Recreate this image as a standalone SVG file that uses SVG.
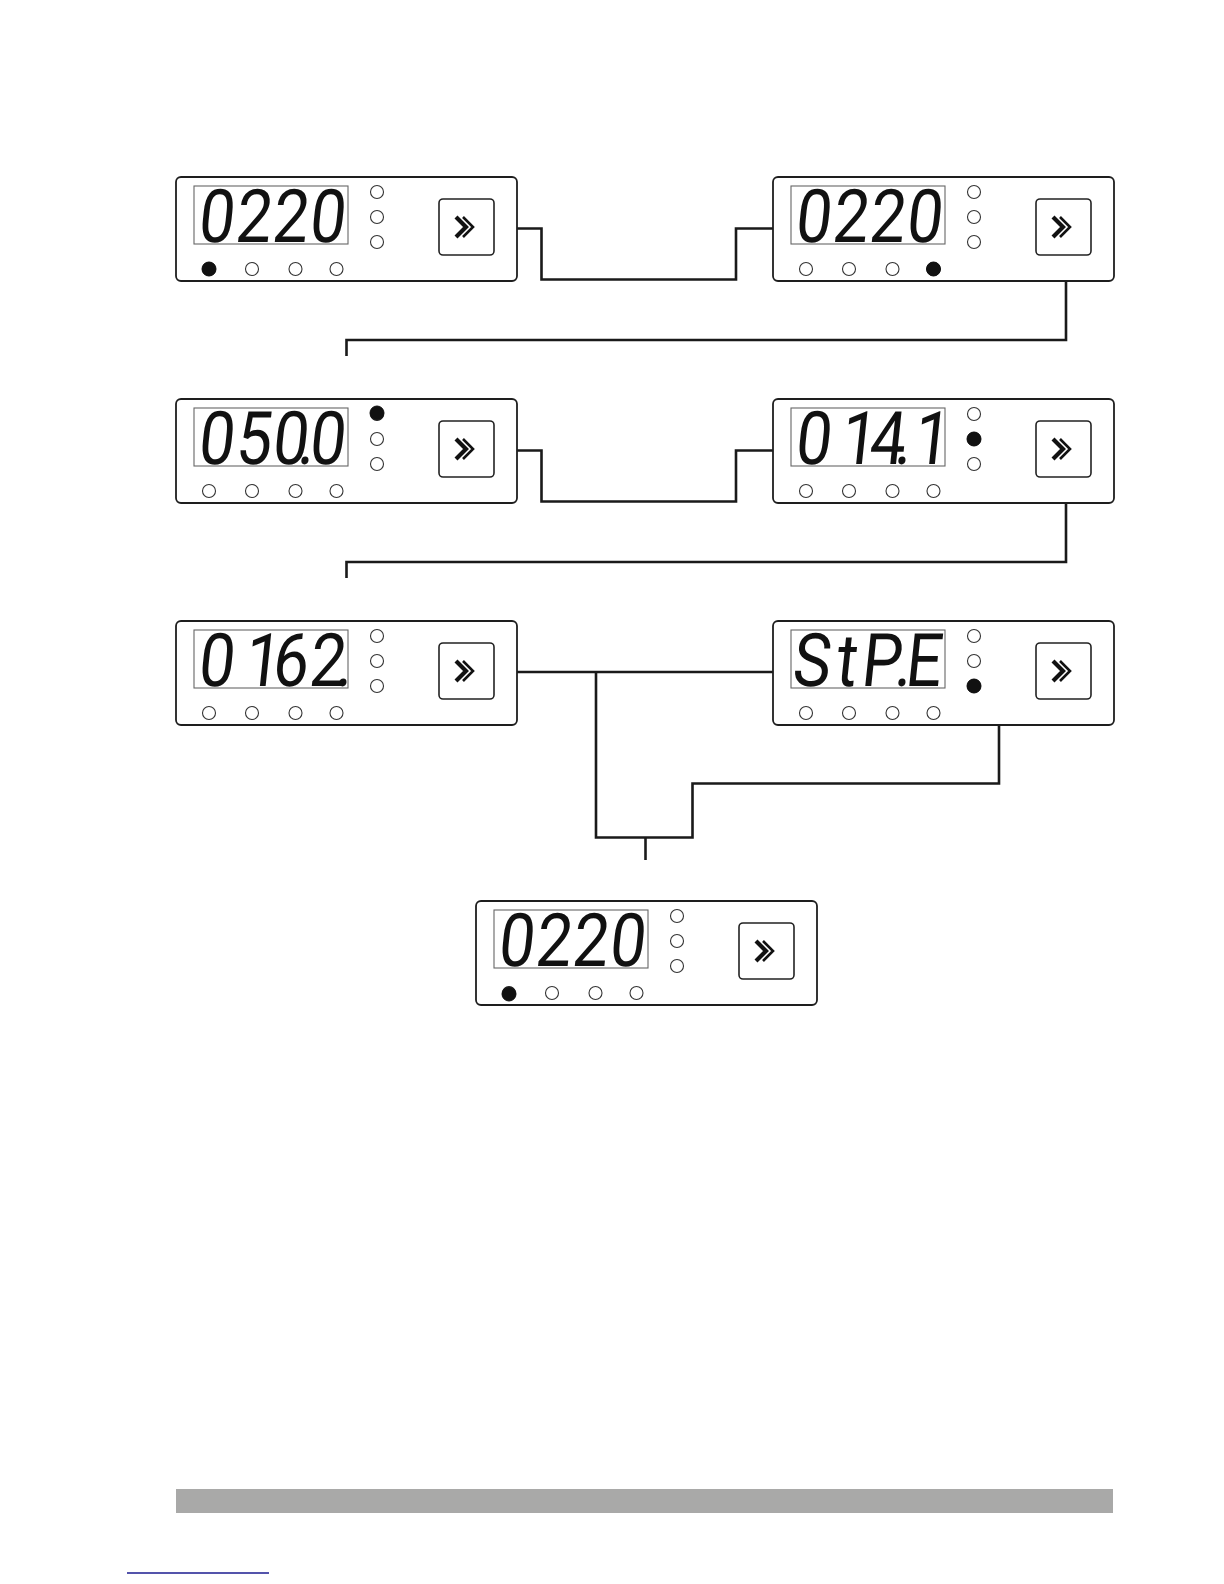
<svg xmlns="http://www.w3.org/2000/svg" xmlns:xlink="http://www.w3.org/1999/xlink" width="1224" height="1584" viewBox="0 0 1224 1584">
<style>
.frame{fill:#fff;stroke:#1e1e1e;stroke-width:1.8}
.disp{fill:#fff;stroke:#666;stroke-width:1.1}
.led{fill:#fff;stroke:#333;stroke-width:1.1}
.on{fill:#111;stroke:#111;stroke-width:1}
.btn{fill:#fff;stroke:#222;stroke-width:1.6}
.chev{fill:none;stroke:#111;stroke-linejoin:miter;stroke-linecap:butt}
.seg{font-family:Roboto,"Liberation Sans",sans-serif;font-weight:400;font-size:74px;fill:#111;text-anchor:middle}
.conn{fill:none;stroke:#1a1a1a;stroke-width:2.6;stroke-linejoin:miter}
</style>
<defs>
<g id="panelBase">
<rect class="frame" x="0" y="0" width="341" height="104" rx="5"/>
<rect class="disp" x="18" y="9" width="154" height="58"/>
<circle class="led" cx="201" cy="15" r="6.5"/>
<circle class="led" cx="201" cy="40" r="6.5"/>
<circle class="led" cx="201" cy="65" r="6.5"/>
<circle class="led" cx="33" cy="92" r="6.5"/>
<circle class="led" cx="76" cy="92" r="6.5"/>
<circle class="led" cx="119.5" cy="92" r="6.5"/>
<circle class="led" cx="160.5" cy="92" r="6.5"/>
<rect class="btn" x="263" y="22" width="55" height="56" rx="4"/>
<polyline class="chev" stroke-width="4.2" points="280,40 290,50 280,60"/>
<polyline class="chev" stroke-width="2.6" points="287,40 297,50 287,60"/>
</g>
</defs>
<rect x="0" y="0" width="1224" height="1584" fill="#fff"/>

<g id="connectors">
<path class="conn" d="M517,228.5 H541.5 V279.5 H736 V228.5 H773"/>
<path class="conn" d="M1066,281 V340 H346.5 V356"/>
<path class="conn" d="M517,450.5 H541.5 V501.5 H736 V450.5 H773"/>
<path class="conn" d="M1066,503 V562 H346.5 V578"/>
<path class="conn" stroke-width="2" d="M494,672 H773"/>
<path class="conn" d="M596,672 V837.5 H692.5 V783.5 H999 V726"/>
<path class="conn" d="M645.5,837.5 V860"/>
</g>

<g id="panel1" transform="translate(176,177)">
<use xlink:href="#panelBase"/>
<circle class="on" cx="33" cy="92" r="7"/>
<text class="seg" transform="translate(0,65) skewX(-6) scale(0.86,1)" x="45.3 88.4 131.4 174.4" y="0">0220</text>
</g>

<g id="panel2" transform="translate(773,177)">
<use xlink:href="#panelBase"/>
<circle class="on" cx="160.5" cy="92" r="7"/>
<text class="seg" transform="translate(0,65) skewX(-6) scale(0.86,1)" x="45.3 88.4 131.4 174.4" y="0">0220</text>
</g>

<g id="panel3" transform="translate(176,399)">
<use xlink:href="#panelBase"/>
<circle class="on" cx="201" cy="14" r="7"/>
<text class="seg" transform="translate(0,65) skewX(-6) scale(0.86,1)" x="45.3 88.4 131.4 150 174.4" y="0">050.0</text>
</g>

<g id="panel4" transform="translate(773,399)">
<use xlink:href="#panelBase"/>
<circle class="on" cx="201" cy="40" r="7"/>
<text class="seg" transform="translate(0,65) skewX(-6) scale(0.86,1)" x="45.3 97.7 131.4 150 182.6" y="0">014.1</text>
</g>

<g id="panel5" transform="translate(176,621)">
<use xlink:href="#panelBase"/>
<text class="seg" transform="translate(0,65) skewX(-6) scale(0.86,1)" x="45.3 98.8 131.4 174.4 194.2" y="0">0162.</text>
</g>

<g id="panel6" transform="translate(773,621)">
<use xlink:href="#panelBase"/>
<circle class="on" cx="201" cy="65" r="7"/>
<text class="seg" transform="translate(0,65) skewX(-6) scale(0.86,1)" x="43 83.7 124.4 150 173.3" y="0">StP.E</text>
</g>

<g id="panel7" transform="translate(476,901)">
<use xlink:href="#panelBase"/>
<circle class="on" cx="33" cy="93" r="7"/>
<text class="seg" transform="translate(0,65) skewX(-6) scale(0.86,1)" x="45.3 88.4 131.4 174.4" y="0">0220</text>
</g>

<rect x="176" y="1489" width="937" height="24" fill="#a9a9a8"/>
<line x1="127" y1="1573" x2="269" y2="1573" stroke="#1b1b8f" stroke-width="1.5"/>
</svg>
